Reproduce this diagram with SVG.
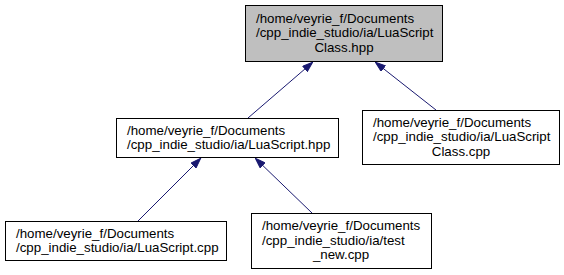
<svg xmlns="http://www.w3.org/2000/svg" width="564" height="275" viewBox="0 0 564 275">
  <style>
    .box { fill: #ffffff; stroke: #000000; stroke-width: 1; }
    .box.hl { fill: #bfbfbf; }
    .lbl { font-family: "Liberation Sans", Arial, sans-serif; font-size: 13.3px; fill: #000000; }
    .mid { text-anchor: middle; }
    .edge { fill: none; stroke: #191970; stroke-width: 1; }
  </style>
  <defs>
    <marker id="arrow" markerUnits="userSpaceOnUse" viewBox="0 0 11 8" markerWidth="11" markerHeight="8" refX="11" refY="4" orient="auto">
      <path d="M0.5,0.5 L10.5,4 L0.5,7.5 z" fill="#191970" stroke="#191970" stroke-width="1"/>
    </marker>
  </defs>
  <rect width="564" height="275" fill="#ffffff"/>

  <g id="edges">
    <path class="edge" d="M248,118 L313,62" marker-end="url(#arrow)"/>
    <path class="edge" d="M436,110 L375,62" marker-end="url(#arrow)"/>
    <path class="edge" d="M138,221 L201,158" marker-end="url(#arrow)"/>
    <path class="edge" d="M312,213 L255,158" marker-end="url(#arrow)"/>
  </g>

  <g id="node-luascriptclass-hpp">
    <rect class="box hl" x="245.5" y="5.5" width="197" height="56"/>
    <text class="lbl" x="256" y="22.5">/home/veyrie_f/Documents</text>
    <text class="lbl" x="256" y="37">/cpp_indie_studio/ia/LuaScript</text>
    <text class="lbl mid" x="344" y="51.5">Class.hpp</text>
  </g>

  <g id="node-luascript-hpp">
    <rect class="box" x="116.5" y="118.5" width="222" height="39"/>
    <text class="lbl" x="127" y="134.5">/home/veyrie_f/Documents</text>
    <text class="lbl" x="127" y="149">/cpp_indie_studio/ia/LuaScript.hpp</text>
  </g>

  <g id="node-luascriptclass-cpp">
    <rect class="box" x="362.5" y="110.5" width="197" height="54"/>
    <text class="lbl" x="373" y="126.5">/home/veyrie_f/Documents</text>
    <text class="lbl" x="373" y="141">/cpp_indie_studio/ia/LuaScript</text>
    <text class="lbl mid" x="461" y="155.5">Class.cpp</text>
  </g>

  <g id="node-luascript-cpp">
    <rect class="box" x="5.5" y="221.5" width="221" height="39"/>
    <text class="lbl" x="16" y="237.5">/home/veyrie_f/Documents</text>
    <text class="lbl" x="16" y="252">/cpp_indie_studio/ia/LuaScript.cpp</text>
  </g>

  <g id="node-test-new-cpp">
    <rect class="box" x="251.5" y="213.5" width="180" height="55"/>
    <text class="lbl" x="262" y="230">/home/veyrie_f/Documents</text>
    <text class="lbl" x="262" y="244.5">/cpp_indie_studio/ia/test</text>
    <text class="lbl mid" x="341" y="259">_new.cpp</text>
  </g>
</svg>
